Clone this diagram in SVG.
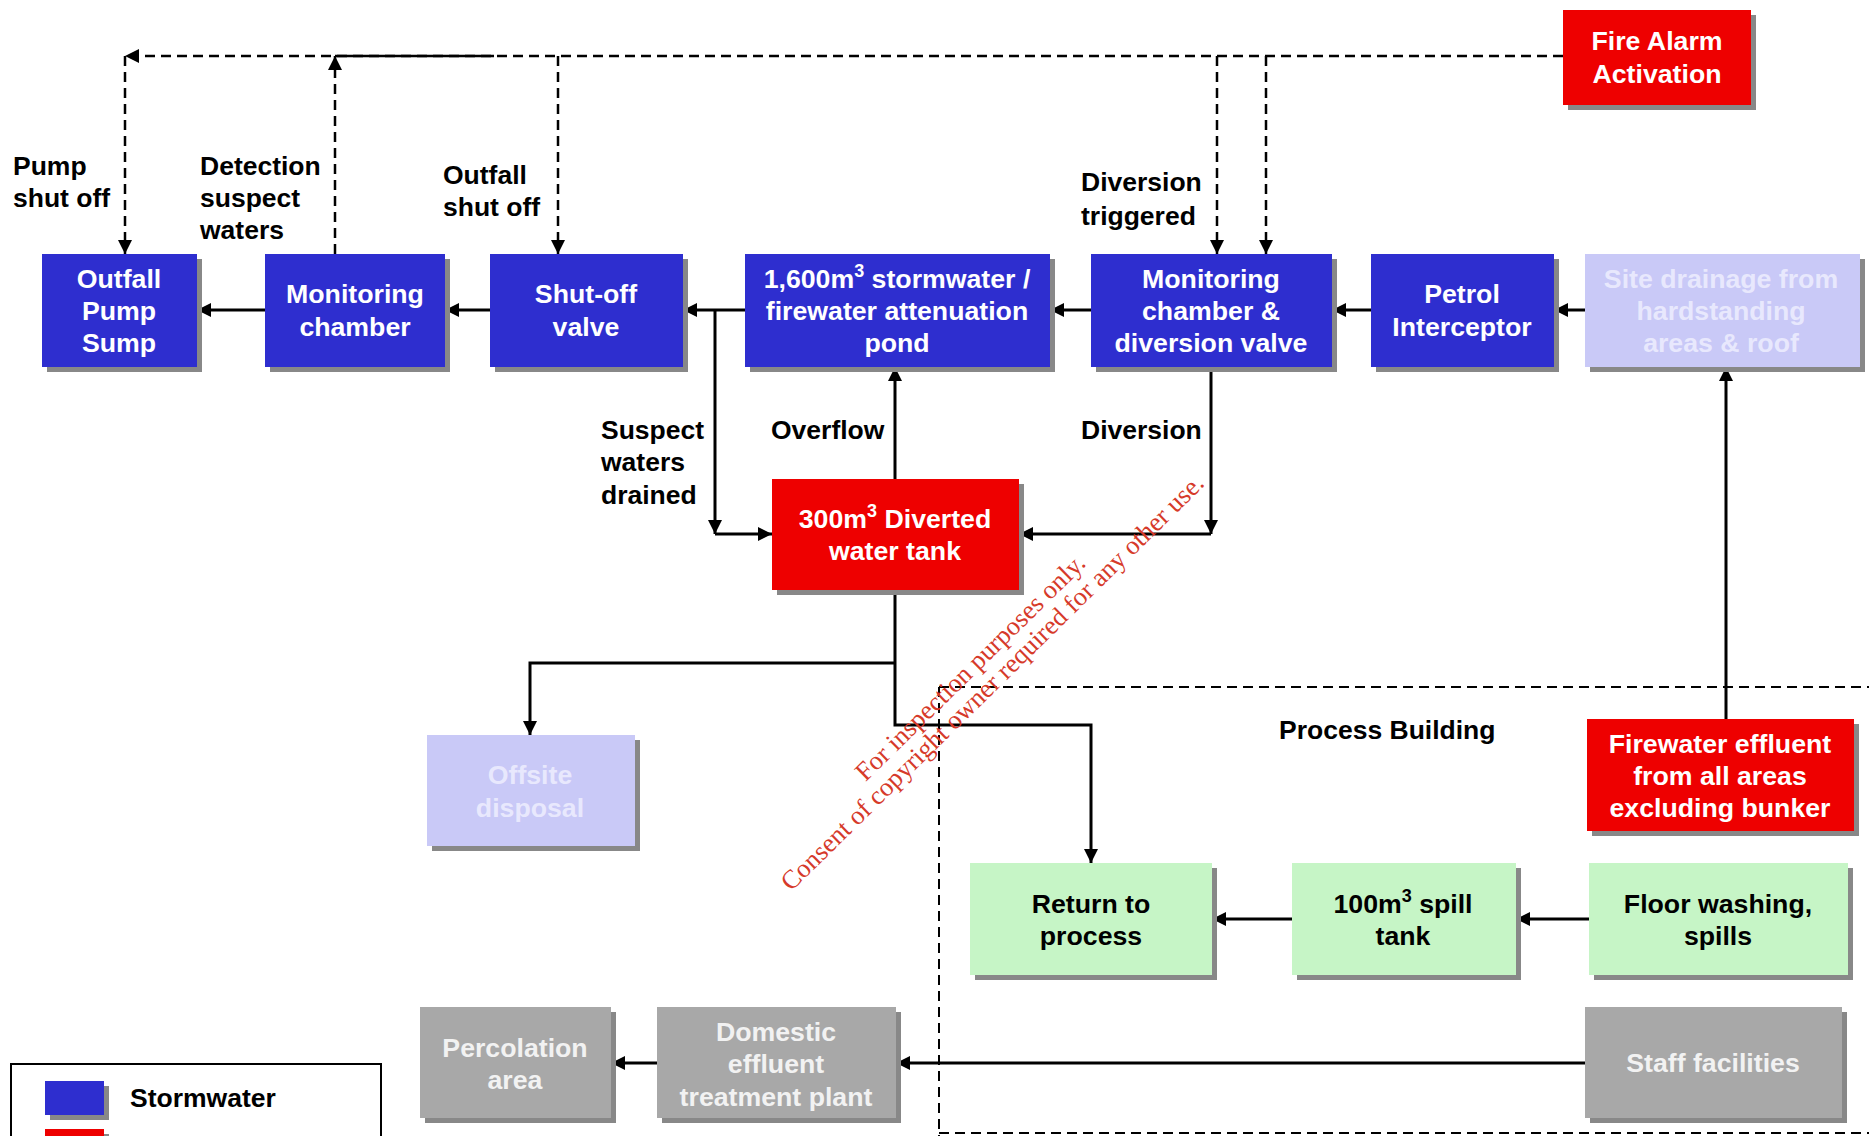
<svg xmlns="http://www.w3.org/2000/svg" width="1869" height="1136" viewBox="0 0 1869 1136">
<defs>
<marker id="ah" viewBox="0 0 10 10" refX="10" refY="5" markerWidth="15" markerHeight="14" markerUnits="userSpaceOnUse" orient="auto">
<path d="M0,0 L10,5 L0,10 z" fill="#000"/>
</marker>
</defs>
<style>
.t{font-family:"Liberation Sans",Arial,sans-serif;font-weight:bold;font-size:26.7px;text-anchor:middle;dominant-baseline:central}
.l{font-family:"Liberation Sans",Arial,sans-serif;font-weight:bold;font-size:26.5px;fill:#000;dominant-baseline:central}
.w{fill:#fff}
.k{fill:#000}
.lv{fill:#e8e8fd}
.gt{fill:#f2f2f2}
.blue{fill:#2e2ecf}
.red{fill:#ee0000}
.lav{fill:#c9c9f7}
.grn{fill:#c6f5c6}
.gry{fill:#a8a8a8}
.shd{fill:#888}
.c{fill:none;stroke:#000;stroke-width:3}
.d{fill:none;stroke:#000;stroke-width:2.5;stroke-dasharray:10 6}
.pb{fill:none;stroke:#000;stroke-width:2;stroke-dasharray:10 6}
.wm{font-family:"Liberation Serif","Times New Roman",serif;font-size:26.4px;fill:#d63a2a;text-anchor:middle;dominant-baseline:central}
</style>
<rect width="1869" height="1136" fill="#fff"/>

<g id="process-building">
<path class="pb" d="M939,687 L1869,687 M939,687 L939,1136 M939,1133 L1869,1133"/>
<text class="l" x="1279" y="730">Process Building</text>
</g>

<g id="connectors">
<path class="d" d="M1563,56 L125,56" marker-end="url(#ah)"/>
<path d="M335,56 L494,56" fill="none" stroke="#000" stroke-width="2.5"/>
<path class="d" d="M125,56 L125,254" marker-end="url(#ah)"/>
<path class="d" d="M335,254 L335,56" marker-end="url(#ah)"/>
<path class="d" d="M558,56 L558,254" marker-end="url(#ah)"/>
<path class="d" d="M1217,56 L1217,254" marker-end="url(#ah)"/>
<path class="d" d="M1266,56 L1266,254" marker-end="url(#ah)"/>
<path class="c" d="M265,310 L197,310" marker-end="url(#ah)"/>
<path class="c" d="M490,310 L445,310" marker-end="url(#ah)"/>
<path class="c" d="M745,310 L683,310" marker-end="url(#ah)"/>
<path class="c" d="M1091,310 L1050,310" marker-end="url(#ah)"/>
<path class="c" d="M1371,310 L1332,310" marker-end="url(#ah)"/>
<path class="c" d="M1585,310 L1554,310" marker-end="url(#ah)"/>
<path class="c" d="M715,310 L715,534" marker-end="url(#ah)"/>
<path class="c" d="M715,534 L772,534" marker-end="url(#ah)"/>
<path class="c" d="M895,479 L895,367" marker-end="url(#ah)"/>
<path class="c" d="M1211,367 L1211,534" marker-end="url(#ah)"/>
<path class="c" d="M1211,534 L1019,534" marker-end="url(#ah)"/>
<path class="c" d="M895,590 L895,725 L1091,725 L1091,863" marker-end="url(#ah)"/>
<path class="c" d="M895,663 L530,663 L530,735" marker-end="url(#ah)"/>
<path class="c" d="M1726,719 L1726,367" marker-end="url(#ah)"/>
<path class="c" d="M1589,919 L1516,919" marker-end="url(#ah)"/>
<path class="c" d="M1292,919 L1212,919" marker-end="url(#ah)"/>
<path class="c" d="M1585,1063 L896,1063" marker-end="url(#ah)"/>
<path class="c" d="M657,1063 L611,1063" marker-end="url(#ah)"/>
</g>

<g id="labels">
<text class="l" x="13" y="166">Pump</text>
<text class="l" x="13" y="198">shut off</text>
<text class="l" x="200" y="166">Detection</text>
<text class="l" x="200" y="198">suspect</text>
<text class="l" x="200" y="230">waters</text>
<text class="l" x="443" y="175">Outfall</text>
<text class="l" x="443" y="207">shut off</text>
<text class="l" x="1081" y="182">Diversion</text>
<text class="l" x="1081" y="216">triggered</text>
<text class="l" x="601" y="430">Suspect</text>
<text class="l" x="601" y="462">waters</text>
<text class="l" x="601" y="495">drained</text>
<text class="l" x="771" y="430">Overflow</text>
<text class="l" x="1081" y="430">Diversion</text>
</g>

<g id="outfall-pump-sump">
<rect class="shd" x="47" y="259" width="155" height="113"/>
<rect class="blue" x="42" y="254" width="155" height="113"/>
<text class="t w" x="119" y="279">Outfall</text>
<text class="t w" x="119" y="311">Pump</text>
<text class="t w" x="119" y="343">Sump</text>
</g>

<g id="monitoring-chamber">
<rect class="shd" x="270" y="259" width="180" height="113"/>
<rect class="blue" x="265" y="254" width="180" height="113"/>
<text class="t w" x="355" y="294">Monitoring</text>
<text class="t w" x="355" y="327">chamber</text>
</g>

<g id="shut-off-valve">
<rect class="shd" x="495" y="259" width="193" height="113"/>
<rect class="blue" x="490" y="254" width="193" height="113"/>
<text class="t w" x="586" y="294">Shut-off</text>
<text class="t w" x="586" y="327">valve</text>
</g>

<g id="attenuation-pond">
<rect class="shd" x="750" y="259" width="305" height="113"/>
<rect class="blue" x="745" y="254" width="305" height="113"/>
<text class="t w" x="897" y="279">1,600m<tspan dy="-8" font-size="18">3</tspan><tspan dy="8"> stormwater /</tspan></text>
<text class="t w" x="897" y="311">firewater attenuation</text>
<text class="t w" x="897" y="343">pond</text>
</g>

<g id="monitoring-diversion">
<rect class="shd" x="1096" y="259" width="241" height="113"/>
<rect class="blue" x="1091" y="254" width="241" height="113"/>
<text class="t w" x="1211" y="279">Monitoring</text>
<text class="t w" x="1211" y="311">chamber &amp;</text>
<text class="t w" x="1211" y="343">diversion valve</text>
</g>

<g id="petrol-interceptor">
<rect class="shd" x="1376" y="259" width="183" height="113"/>
<rect class="blue" x="1371" y="254" width="183" height="113"/>
<text class="t w" x="1462" y="294">Petrol</text>
<text class="t w" x="1462" y="327">Interceptor</text>
</g>

<g id="site-drainage">
<rect class="shd" x="1590" y="259" width="275" height="113"/>
<rect class="lav" x="1585" y="254" width="275" height="113"/>
<text class="t lv" x="1721" y="279">Site drainage from</text>
<text class="t lv" x="1721" y="311">hardstanding</text>
<text class="t lv" x="1721" y="343">areas &amp; roof</text>
</g>

<g id="fire-alarm">
<rect class="shd" x="1568" y="15" width="188" height="95"/>
<rect class="red" x="1563" y="10" width="188" height="95"/>
<text class="t w" x="1657" y="41">Fire Alarm</text>
<text class="t w" x="1657" y="74">Activation</text>
</g>

<g id="diverted-tank">
<rect class="shd" x="777" y="484" width="247" height="111"/>
<rect class="red" x="772" y="479" width="247" height="111"/>
<text class="t w" x="895" y="519">300m<tspan dy="-8" font-size="18">3</tspan><tspan dy="8"> Diverted</tspan></text>
<text class="t w" x="895" y="551">water tank</text>
</g>

<g id="offsite-disposal">
<rect class="shd" x="432" y="740" width="208" height="111"/>
<rect class="lav" x="427" y="735" width="208" height="111"/>
<text class="t lv" x="530" y="775">Offsite</text>
<text class="t lv" x="530" y="808">disposal</text>
</g>

<g id="firewater-effluent">
<rect class="shd" x="1592" y="724" width="267" height="112"/>
<rect class="red" x="1587" y="719" width="267" height="112"/>
<text class="t w" x="1720" y="744">Firewater effluent</text>
<text class="t w" x="1720" y="776">from all areas</text>
<text class="t w" x="1720" y="808">excluding bunker</text>
</g>

<g id="return-to-process">
<rect class="shd" x="975" y="868" width="242" height="112"/>
<rect class="grn" x="970" y="863" width="242" height="112"/>
<text class="t k" x="1091" y="904">Return to</text>
<text class="t k" x="1091" y="936">process</text>
</g>

<g id="spill-tank">
<rect class="shd" x="1297" y="868" width="224" height="112"/>
<rect class="grn" x="1292" y="863" width="224" height="112"/>
<text class="t k" x="1403" y="904">100m<tspan dy="-8" font-size="18">3</tspan><tspan dy="8"> spill</tspan></text>
<text class="t k" x="1403" y="936">tank</text>
</g>

<g id="floor-washing">
<rect class="shd" x="1594" y="868" width="259" height="112"/>
<rect class="grn" x="1589" y="863" width="259" height="112"/>
<text class="t k" x="1718" y="904">Floor washing,</text>
<text class="t k" x="1718" y="936">spills</text>
</g>

<g id="staff-facilities">
<rect class="shd" x="1590" y="1012" width="257" height="111"/>
<rect class="gry" x="1585" y="1007" width="257" height="111"/>
<text class="t gt" x="1713" y="1063">Staff facilities</text>
</g>

<g id="domestic-effluent">
<rect class="shd" x="662" y="1012" width="239" height="111"/>
<rect class="gry" x="657" y="1007" width="239" height="111"/>
<text class="t gt" x="776" y="1032">Domestic</text>
<text class="t gt" x="776" y="1064">effluent</text>
<text class="t gt" x="776" y="1097">treatment plant</text>
</g>

<g id="percolation-area">
<rect class="shd" x="425" y="1012" width="191" height="111"/>
<rect class="gry" x="420" y="1007" width="191" height="111"/>
<text class="t gt" x="515" y="1048">Percolation</text>
<text class="t gt" x="515" y="1080">area</text>
</g>

<g id="legend">
<rect x="11" y="1064" width="370" height="90" fill="none" stroke="#000" stroke-width="2"/>
<rect class="shd" x="50" y="1086" width="59" height="34"/>
<rect class="blue" x="45" y="1081" width="59" height="34"/>
<text class="l" x="130" y="1098">Stormwater</text>
<rect class="shd" x="50" y="1134" width="59" height="10"/>
<rect class="red" x="45" y="1129" width="59" height="10"/>
</g>

<g id="watermark">
<text class="wm" transform="translate(970,667) rotate(-44.5)">For inspection purposes only.</text>
<text class="wm" transform="translate(992,682) rotate(-44.5)">Consent of copyright owner required for any other use.</text>
</g>
</svg>
